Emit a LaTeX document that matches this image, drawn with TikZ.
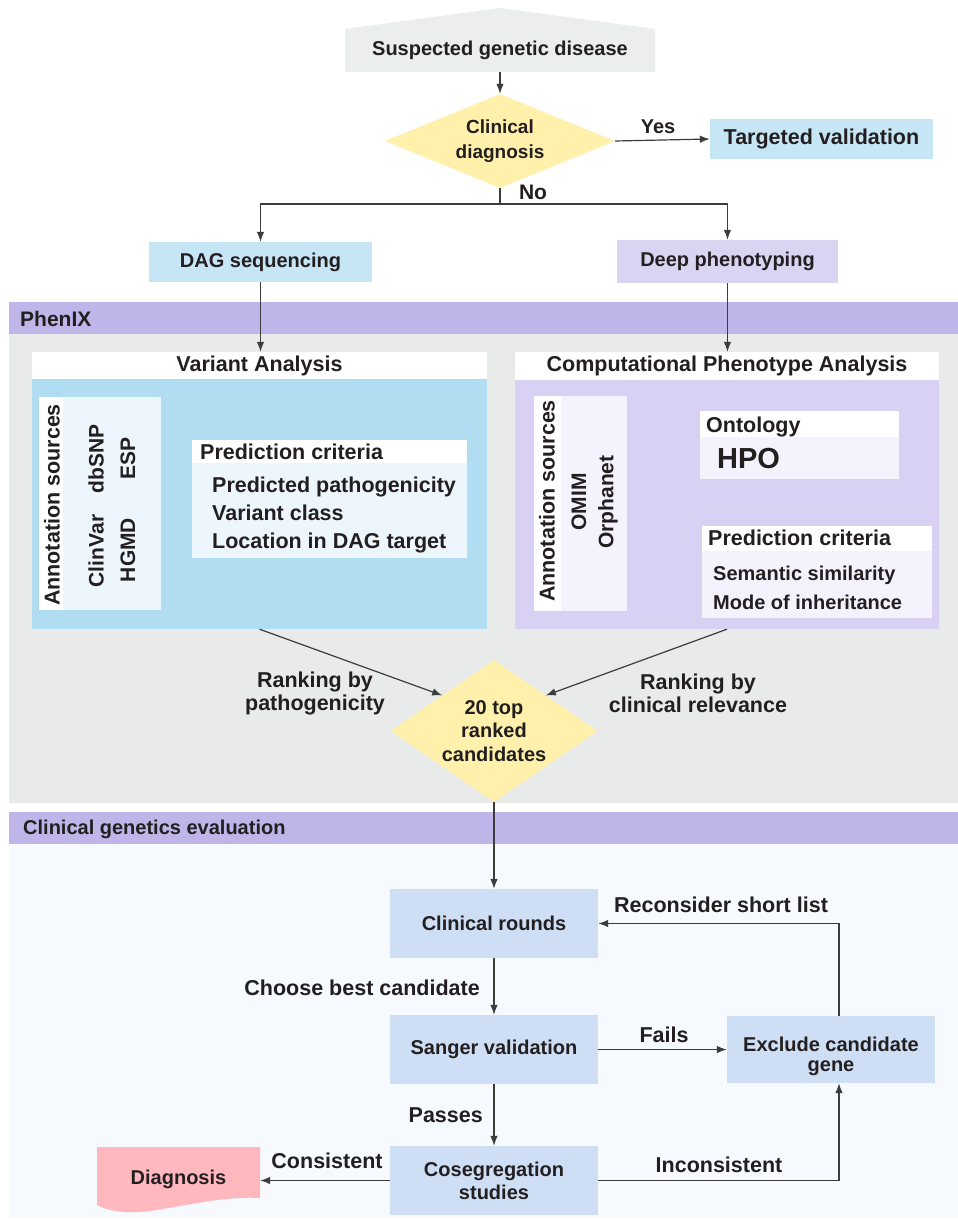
\documentclass[tikz,border=0pt]{standalone}
\usepackage{fontspec}
\setmainfont{Liberation Sans}
\usetikzlibrary{arrows.meta,shapes.geometric,calc}
\definecolor{txt}{HTML}{231F20}
\definecolor{ln}{HTML}{3C3C3C}
\definecolor{susfill}{HTML}{ECEEEE}
\definecolor{yel}{HTML}{FFF0AC}
\definecolor{bluebox}{HTML}{C6E6F6}
\definecolor{lavbox}{HTML}{DAD4F3}
\definecolor{band}{HTML}{BFB5E8}
\definecolor{graypan}{HTML}{E9EBEA}
\definecolor{vabody}{HTML}{B0DDF1}
\definecolor{annblue}{HTML}{EEF6FD}
\definecolor{cpabody}{HTML}{D8D1F3}
\definecolor{lavl}{HTML}{F4F2FD}
\definecolor{botpan}{HTML}{F6F9FD}
\definecolor{stepfill}{HTML}{CEDEF4}
\definecolor{diagfill}{HTML}{FFB8BE}
\newcommand\ftA{\fontsize{20}{23}\selectfont\bfseries}
\newcommand\ftB{\fontsize{21.5}{23}\selectfont\bfseries}
\tikzset{
  box/.style={rectangle, inner sep=0pt, align=center, font=\ftA, text=txt},
  stepbox/.style={box, fill=stepfill, minimum width=208pt, minimum height=69pt},
  lbl/.style={inner sep=0pt, align=center, font=\ftB, text=txt},
  rlbl/.style={lbl, rotate=90},
  lin/.style={draw=ln, line width=1.2pt},
  arr/.style={lin, -{Latex[length=10pt,width=7.5pt]}},
  dia/.style={diamond, fill=yel, inner sep=0pt, align=center, text=txt}
}
\begin{document}
\begin{tikzpicture}[x=1pt,y=-1pt]
\useasboundingbox (0,0) rectangle (958,1223);
\fill[white] (0,0) rectangle (958,1223);
% section panels
\fill[band] (9,302) rectangle (958,334);
\fill[graypan] (9,334) rectangle (958,803);
\fill[band] (9,812) rectangle (958,844);
\fill[botpan] (9,844) rectangle (958,1218);
\node[lbl, anchor=west, font=\fontsize{21}{23}\selectfont\bfseries] (phenix) at (20,319) {PhenIX};
\node[lbl, anchor=west, font=\ftA] (cge) at (23,829) {Clinical genetics evaluation};

% top flow
\fill[susfill] (345,72) -- (345,29) -- (500,8) -- (655,29) -- (655,72) -- cycle;
\node[box, minimum width=310pt, minimum height=43pt] (sus) at (500,50.5) {Suspected genetic disease};
\node[dia, minimum width=230pt, minimum height=94pt, aspect=2.45, font=\fontsize{19}{25}\selectfont\bfseries] (clin) at (500,141) {Clinical\\diagnosis};
\node[box, fill=bluebox, minimum width=223pt, minimum height=40pt, font=\ftB] (tv) at (821.5,139) {Targeted validation};
\node[box, fill=bluebox, minimum width=223pt, minimum height=40pt] (dag) at (260.5,262) {DAG sequencing};
\node[box, fill=lavbox, minimum width=221pt, minimum height=43pt] (deep) at (727.5,261.5) {Deep phenotyping};
\coordinate (br) at (500,204);

\draw[arr] (sus.south) -- (clin.north);
\draw[arr] (clin.east) -- (tv.west);
\node[lbl, font=\ftA] (yes) at (658,127) {Yes};
\draw[lin] (clin.south) -- (br);
\draw[arr] (br) -| (dag.north);
\draw[arr] (br) -| (deep.north);
\node[lbl, font=\fontsize{21}{23}\selectfont\bfseries] (no) at (533,192) {No};

% Variant analysis panel
\node[box, fill=white, minimum width=455pt, minimum height=27pt, font=\ftB] (vah) at (259.5,365.5) {Variant Analysis};
\node[box, fill=vabody, minimum width=455pt, minimum height=250pt] (vab) at (259.5,504) {};
\fill[annblue] (39,397) rectangle (161,610);
\fill[white] (39,397) rectangle (63,610);
\node[rlbl] (vann) at (52,505) {Annotation sources};
\node[rlbl, font=\fontsize{21}{23}\selectfont\bfseries] (dbsnp) at (96,459) {dbSNP};
\node[rlbl, font=\fontsize{21}{23}\selectfont\bfseries] (clinvar) at (96,551) {ClinVar};
\node[rlbl, font=\fontsize{21}{23}\selectfont\bfseries] (esp) at (128,458) {ESP};
\node[rlbl, font=\fontsize{21}{23}\selectfont\bfseries] (hgmd) at (128,550) {HGMD};
\fill[white] (192,440) rectangle (467,463);
\fill[annblue] (192,463) rectangle (467,558);
\node[lbl, anchor=base west] (vpc) at (200,459.7) {Prediction criteria};
\node[lbl, anchor=base west] (vp1) at (212,492.7) {Predicted pathogenicity};
\node[lbl, anchor=base west] (vp2) at (212,520.7) {Variant class};
\node[lbl, anchor=base west] (vp3) at (212,548.7) {Location in DAG target};

% Computational phenotype analysis panel
\node[box, fill=white, minimum width=424pt, minimum height=28pt, font=\ftB] (cpah) at (727,366) {Computational Phenotype Analysis};
\node[box, fill=cpabody, minimum width=424pt, minimum height=249pt] (cpab) at (727,504.5) {};
\fill[lavl] (534,396) rectangle (627,611);
\fill[white] (534,396) rectangle (561,611);
\node[rlbl] (cann) at (547,501) {Annotation sources};
\node[rlbl, font=\fontsize{21}{23}\selectfont\bfseries] (omim) at (579,502) {OMIM};
\node[rlbl, font=\fontsize{21}{23}\selectfont\bfseries] (orpha) at (608,502) {Orphanet};
\fill[white] (700,411) rectangle (899,437);
\fill[lavl] (700,437) rectangle (899,479);
\node[lbl, anchor=base west] (onto) at (706,432.7) {Ontology};
\node[lbl, anchor=base west, font=\fontsize{29}{32}\selectfont\bfseries] (hpo) at (717,468.4) {HPO};
\fill[white] (702,526) rectangle (932,551);
\fill[lavl] (702,551) rectangle (932,618);
\node[lbl, anchor=base west] (cpc) at (708,545.7) {Prediction criteria};
\node[lbl, anchor=base west, font=\ftA] (cp1) at (713,580.2) {Semantic similarity};
\node[lbl, anchor=base west, font=\ftA] (cp2) at (713,609.2) {Mode of inheritance};

\draw[arr] (dag.south) -- (dag.south |- vah.north);
\draw[arr] (deep.south) -- (deep.south |- cpah.north);

% candidates
\node[dia, minimum width=207pt, minimum height=142pt, aspect=1.46, font=\fontsize{20}{23.5}\selectfont\bfseries] (cand) at (494,731) {20 top\\ranked\\candidates};
\draw[arr] (vab.south) -- (cand.north west);
\draw[arr] (cpab.south) -- (cand.north east);
\node[lbl] (rk1) at (315,693) {Ranking by\\pathogenicity};
\node[lbl] (rk2) at (698,693) {Ranking by\\clinical relevance};

% clinical genetics evaluation
\node[stepbox] (cr) at (494,923.5) {Clinical rounds};
\node[stepbox] (sv) at (494,1049.5) {Sanger validation};
\node[stepbox] (cs) at (494,1180.5) {Cosegregation\\studies};
\node[stepbox, minimum height=67pt] (ex) at (831,1049.5) {};
\node[lbl, font=\fontsize{20}{20}\selectfont\bfseries] (extxt) at (831,1056) {Exclude candidate\\gene};
\fill[diagfill] (97,1147) -- (260,1147) -- (260,1198)
  .. controls (225,1196) and (190,1205) .. (150,1211)
  .. controls (125,1214) and (108,1211) .. (97,1205) -- cycle;
\node[box, minimum width=163pt, minimum height=64pt] (dg) at (178.5,1179) {Diagnosis};

\draw[arr] (cand.south) -- (cr.north);
\draw[arr] (cr.south) -- (sv.north);
\node[lbl, anchor=east] (choose) at (480,988) {Choose best candidate};
\draw[arr] (sv.south) -- (cs.north);
\node[lbl, anchor=east] (passes) at (483,1115) {Passes};
\draw[arr] (sv.east) -- (ex.west);
\node[lbl] (fails) at (664,1035) {Fails};
\draw[arr] ([xshift=8pt]ex.north) |- (cr.east);
\node[lbl] (recon) at (721,905) {Reconsider short list};
\draw[arr] (cs.east) -| ([xshift=8pt]ex.south);
\node[lbl] (incons) at (719,1165) {Inconsistent};
\draw[arr] (cs.west) -- (cs.west -| dg.east);
\node[lbl] (cons) at (327,1161) {Consistent};
\end{tikzpicture}
\end{document}
